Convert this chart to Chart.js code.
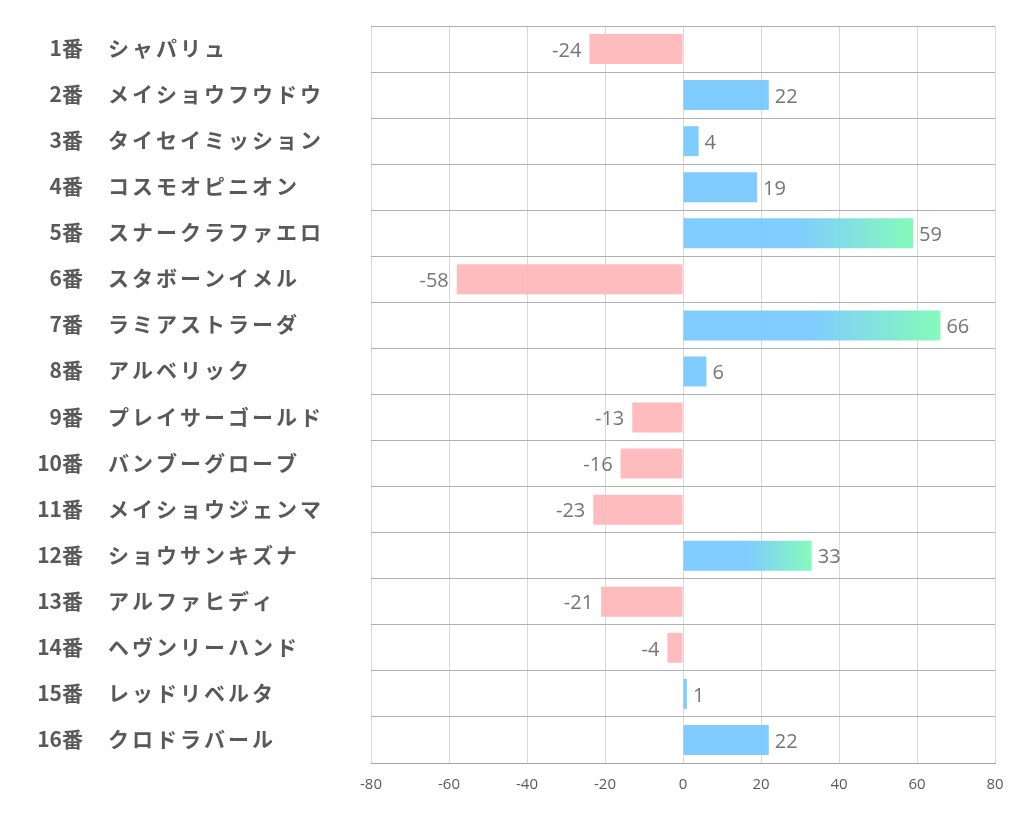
<!DOCTYPE html>
<html>
<head>
<meta charset="utf-8">
<script src="https://cdn.jsdelivr.net/npm/chart.js@4.4.1/dist/chart.umd.min.js"></script>
<style>
  html, body { margin: 0; padding: 0; background: #fff; }
  #wrap { width: 1022px; height: 834px; }
</style>
</head>
<body>
<div id="wrap"><canvas id="chart"></canvas></div>
<script>
const numbers = ['1番','2番','3番','4番','5番','6番','7番','8番','9番','10番','11番','12番','13番','14番','15番','16番'];
const horses = ['シャパリュ','メイショウフウドウ','タイセイミッション','コスモオピニオン','スナークラファエロ','スタボーンイメル','ラミアストラーダ','アルベリック','プレイサーゴールド','バンブーグローブ','メイショウジェンマ','ショウサンキズナ','アルファヒディ','ヘヴンリーハンド','レッドリベルタ','クロドラバール'];
const scores = [-24, 22, 4, 19, 59, -58, 66, 6, -13, -16, -23, 33, -21, -4, 1, 22];
const xTicks = [-80, -60, -40, -20, 0, 20, 40, 60, 80];

const BLUE = 'rgba(118,200,255,0.92)';
const GREEN = 'rgba(122,250,180,0.92)';
const PINK = 'rgba(255,182,186,0.92)';
const LABEL_FONT = 'bold 21px "Noto Sans CJK JP", "Noto Sans", sans-serif';

function barColor(ctx) {
  const v = scores[ctx.dataIndex];
  if (v < 0) return PINK;
  if (v < 30) return BLUE;
  const chart = ctx.chart;
  if (!chart.chartArea) return BLUE;
  const x = chart.scales.x;
  const x0 = x.getPixelForValue(0), x1 = x.getPixelForValue(v);
  const g = chart.ctx.createLinearGradient(x0, 0, x1, 0);
  g.addColorStop(0, BLUE);
  g.addColorStop(0.5, BLUE);
  g.addColorStop(1, GREEN);
  return g;
}

const rowLabels = {
  id: 'rowLabels',
  afterDraw(chart) {
    const c = chart.ctx, y = chart.scales.y;
    c.save();
    c.font = LABEL_FONT;
    c.fillStyle = '#595959';
    c.textBaseline = 'middle';
    numbers.forEach((n, i) => {
      const py = y.getPixelForValue(i) - 1;
      c.textAlign = 'right';
      c.letterSpacing = '0px';
      c.fillText(n, 83, py);
      c.textAlign = 'left';
      c.letterSpacing = '3px';
      c.fillText(horses[i], 108, py);
    });
    c.restore();
  }
};

const valueLabels = {
  id: 'valueLabels',
  afterDatasetsDraw(chart) {
    const c = chart.ctx;
    const meta = chart.getDatasetMeta(0);
    c.save();
    c.font = '20px "Open Sans", "Noto Sans", sans-serif';
    c.fillStyle = '#757575';
    c.textBaseline = 'middle';
    meta.data.forEach((bar, i) => {
      const v = scores[i];
      if (v < 0) {
        c.textAlign = 'right';
        c.fillText(String(v), bar.x - 8, bar.y + 2);
      } else {
        c.textAlign = 'left';
        c.fillText(String(v), bar.x + 6, bar.y + 2);
      }
    });
    c.restore();
  }
};

new Chart(document.getElementById('chart'), {
  type: 'bar',
  data: {
    labels: horses,
    datasets: [{
      data: scores,
      backgroundColor: barColor,
      borderWidth: 0,
      barPercentage: 0.65,
      categoryPercentage: 1
    }]
  },
  options: {
    indexAxis: 'y',
    responsive: true,
    maintainAspectRatio: false,
    animation: false,
    layout: { padding: { left: 371, right: 27, top: 26, bottom: 27 } },
    plugins: { legend: { display: false }, tooltip: { enabled: false } },
    scales: {
      x: {
        min: -80, max: 80,
        afterBuildTicks(axis) { axis.ticks = xTicks.map(v => ({ value: v })); },
        grid: { color: '#d9d9d9', drawTicks: false, lineWidth: 1 },
        border: { color: '#a6a6a6', width: 1 },
        ticks: {
          padding: 13,
          color: '#595959',
          font: { size: 15, family: '"Open Sans", "Noto Sans", sans-serif' }
        }
      },
      y: {
        grid: { color: '#b0b0b0', drawTicks: false, offset: true },
        border: { display: false },
        ticks: { display: false }
      }
    }
  },
  plugins: [rowLabels, valueLabels]
});
</script>
</body>
</html>
